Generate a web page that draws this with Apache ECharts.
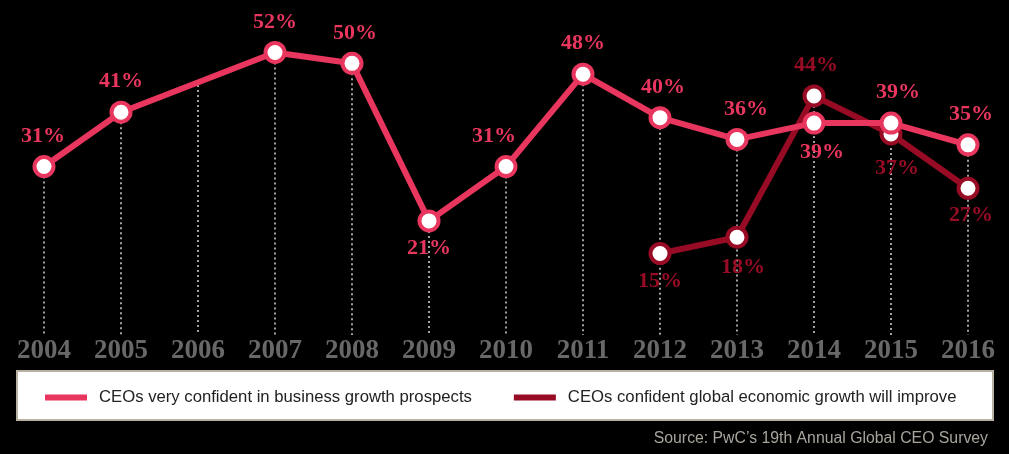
<!DOCTYPE html>
<html>
<head>
<meta charset="utf-8">
<script src="https://cdn.jsdelivr.net/npm/echarts@6/dist/echarts.min.js"></script>
<style>
html,body{margin:0;padding:0;background:#000;}
#chart{width:1009px;height:454px;}
</style>
</head>
<body>
<div id="chart"></div>
<script>
var years = ['2004','2005','2006','2007','2008','2009','2010','2011','2012','2013','2014','2015','2016'];
var businessConfidence = [31, 41, null, 52, 50, 21, 31, 48, 40, 36, 39, 39, 35];
var globalGrowth = [null, null, null, null, null, null, null, null, 15, 18, 44, 37, 27];
// where the connecting line crosses the 2006 drop line
var dropLineTops = [31, 41, 46, 52, 50, 21, 31, 48, 40, 36, 44, 39, 35];
var seriesNames = ['CEOs very confident in business growth prospects', 'CEOs confident global economic growth will improve'];
var sourceText = 'Source: PwC\u2019s 19th Annual Global CEO Survey';

var PINK = '#e8365e';
var DARK = '#980b25';

// label placement per point (style, not data)
var pinkBelow = {5: true, 10: true};
var pinkOffset = {0: [-1, 0], 3: [0, 0], 4: [3, 0], 6: [-12, 0], 8: [3, 0], 9: [9, 0], 10: [8, 2], 11: [7, 0], 12: [3, 0]};
var darkOffset = {8: [0, 0], 9: [6, 3], 10: [2, 0], 11: [6, 7], 12: [3, 0]};
var darkAbove = {10: true};

function buildData(values, belowMap, offsets, defaultBelow) {
  return values.map(function (v, i) {
    if (v == null) return null;
    var below = defaultBelow ? !belowMap[i] : !!belowMap[i];
    return {
      value: v,
      label: {
        position: below ? 'bottom' : 'top',
        distance: below ? 5 : 8,
        offset: offsets[i] || [0, 0]
      }
    };
  });
}

function labelStyle(color) {
  return {
    show: true,
    color: color,
    formatter: '{c}%',
    fontFamily: 'Liberation Serif',
    fontWeight: 'bold',
    fontSize: 22
  };
}

var chart = echarts.init(document.getElementById('chart'), null, {renderer: 'canvas'});
chart.setOption({
  backgroundColor: '#000',
  animation: false,
  grid: {left: 5.5, right: 2.5, top: 9, bottom: 119, containLabel: false},
  xAxis: {
    type: 'category',
    data: years,
    boundaryGap: true,
    axisLine: {show: false},
    axisTick: {show: false},
    axisLabel: {
      color: '#686868',
      fontFamily: 'Liberation Serif',
      fontWeight: 'bold',
      fontSize: 27,
      margin: 3
    },
    splitLine: {show: false}
  },
  yAxis: {
    type: 'value',
    min: 0,
    max: 60,
    show: false
  },
  legend: {
    left: 45,
    top: 389,
    padding: 0,
    itemWidth: 42,
    itemHeight: 6,
    itemGap: 42,
    icon: 'rect',
    textStyle: {color: '#222', fontFamily: 'Liberation Sans', fontSize: 16.7, padding: [0, 0, 0, 7]},
    data: [
      {name: seriesNames[0], itemStyle: {color: PINK, borderWidth: 0}},
      {name: seriesNames[1], itemStyle: {color: DARK, borderWidth: 0}}
    ]
  },
  graphic: [
    {
      type: 'rect',
      z: -1,
      shape: {x: 17, y: 371, width: 976, height: 49},
      style: {fill: '#ffffff', stroke: '#b8b0a0', lineWidth: 2}
    },
    {
      type: 'text',
      right: 21,
      top: 431,
      style: {text: sourceText, fill: '#a8a49c', font: '15.8px "Liberation Sans"'}
    }
  ],
  series: [
    {
      type: 'custom',
      name: 'drop',
      silent: true,
      z: 1,
      data: dropLineTops,
      renderItem: function (params, api) {
        var top = api.coord([api.value(0), api.value(1)]);
        var bottom = api.coord([api.value(0), 0]);
        return {
          type: 'line',
          shape: {x1: top[0], y1: top[1], x2: bottom[0], y2: bottom[1]},
          style: {stroke: '#d8d8d8', lineWidth: 1.5, lineDash: [2, 3]}
        };
      },
      encode: {x: 0, y: 1}
    },
    {
      type: 'line',
      name: seriesNames[1],
      z: 2,
      data: buildData(globalGrowth, darkAbove, darkOffset, true),
      color: DARK,
      lineStyle: {color: DARK, width: 6},
      symbol: 'circle',
      symbolSize: 19,
      showAllSymbol: true,
      itemStyle: {color: '#ffffff', borderColor: DARK, borderWidth: 4},
      label: labelStyle(DARK)
    },
    {
      type: 'line',
      name: seriesNames[0],
      z: 3,
      connectNulls: true,
      data: buildData(businessConfidence, pinkBelow, pinkOffset, false),
      color: PINK,
      lineStyle: {color: PINK, width: 6},
      symbol: 'circle',
      symbolSize: 19,
      showAllSymbol: true,
      itemStyle: {color: '#ffffff', borderColor: PINK, borderWidth: 4},
      label: labelStyle(PINK)
    }
  ]
});
</script>
</body>
</html>
